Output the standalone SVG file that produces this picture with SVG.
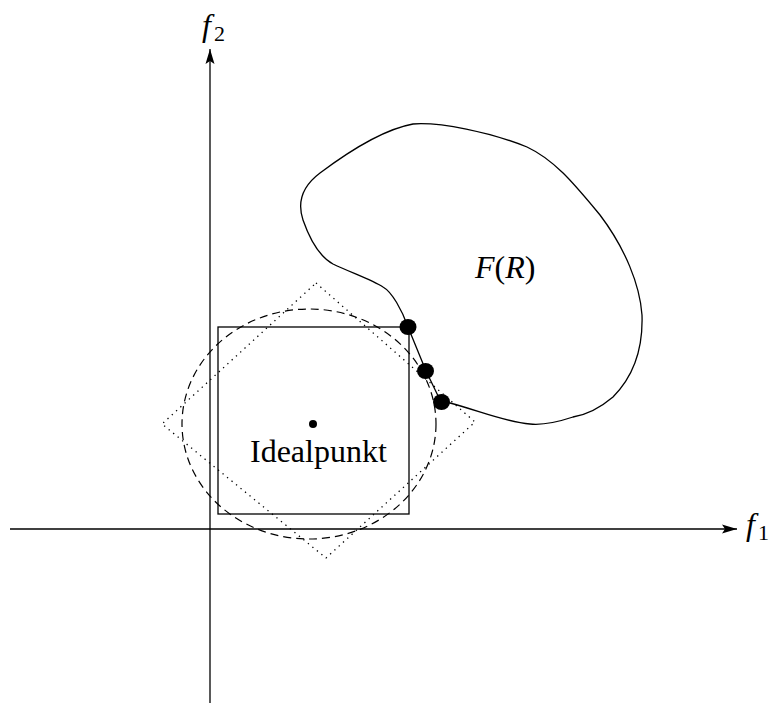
<svg xmlns="http://www.w3.org/2000/svg" width="772" height="704" viewBox="0 0 772 704">
<style>
.ln{fill:none;stroke:#000;stroke-width:1.3}
.dash{fill:none;stroke:#000;stroke-width:1.2;stroke-dasharray:8 5}
.dot{fill:none;stroke:#000;stroke-width:1.3;stroke-dasharray:1.3 4.5}
.t{font-family:"Liberation Serif","Times New Roman",serif;fill:#000}
</style>
<defs>
<marker id="ah" markerWidth="16" markerHeight="10" refX="15" refY="5" orient="auto" markerUnits="userSpaceOnUse">
<path d="M0,0.5 L15,5 L0,9.5 L3,5 Z" fill="#000"/>
</marker>
</defs>
<rect width="772" height="704" fill="#fff"/>
<g id="axes">
<line class="ln" x1="210" y1="703" x2="210" y2="49" marker-end="url(#ah)"/>
<line class="ln" x1="10" y1="529" x2="737" y2="529" marker-end="url(#ah)"/>
</g>
<g id="label-f2"><text class="t" x="202" y="36" font-size="32" font-style="italic">f</text><text class="t" x="214" y="41" font-size="22">2</text></g>
<g id="label-f1"><text class="t" x="746" y="535" font-size="32" font-style="italic">f</text><text class="t" x="758" y="540" font-size="22">1</text></g>
<g id="region">
<path class="ln" d="M408,327 C402,310 392,292 383,287 C372,280 352,273 333,264 C320,257 310,240 303,220 C298,205 300,188 320,173 C340,158 380,130 413,124 C440,122 490,132 527,147 C555,160 575,185 600,215 C625,248 640,285 642,315 C643,345 635,375 613,397 C600,408 585,415 573,417 C555,423 540,425 530,424 C505,422 480,411 450,403 L441,402 L426,371 Z"/>
<text class="t" x="475" y="278" font-size="32"><tspan font-style="italic">F</tspan>(<tspan font-style="italic">R</tspan>)</text>
</g>
<g id="square"><rect class="ln" x="218" y="327" width="191" height="187"/></g>
<g id="circle"><ellipse class="dash" cx="309" cy="424" rx="127" ry="115"/></g>
<g id="diamond"><polygon class="dot" points="316,283 475,422 326,558 162,424"/></g>
<g id="idealpunkt">
<circle cx="313" cy="424" r="4"/>
<text class="t" x="250" y="462" font-size="32">Idealpunkt</text>
</g>
<g id="points">
<ellipse cx="408" cy="327" rx="8.5" ry="8"/>
<ellipse cx="425.5" cy="371" rx="8.5" ry="8"/>
<ellipse cx="441.5" cy="402" rx="8.5" ry="8"/>
</g>
</svg>
